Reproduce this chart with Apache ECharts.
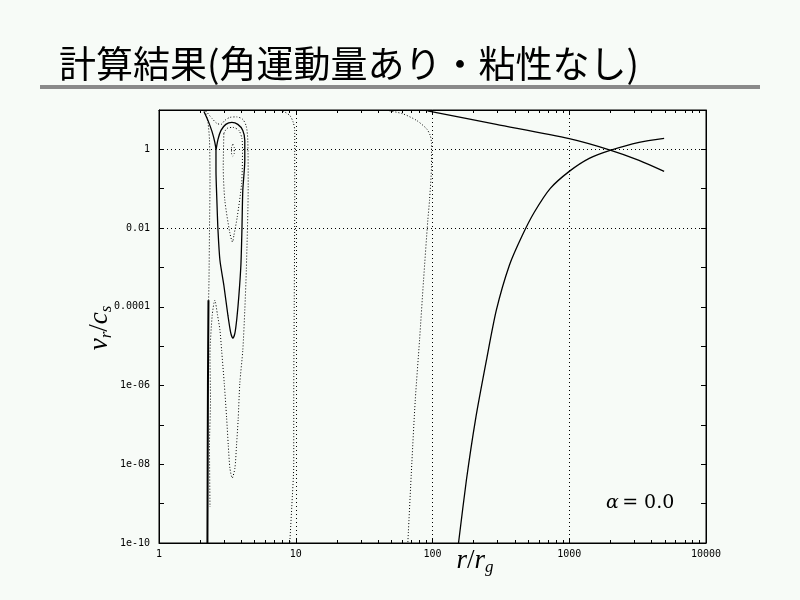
<!DOCTYPE html>
<html>
<head>
<meta charset="utf-8">
<title>計算結果(角運動量あり・粘性なし)</title>
<script src="https://cdn.jsdelivr.net/npm/echarts@6/dist/echarts.min.js"></script>
<style>
html,body{margin:0;padding:0;background:#f7fbf7;}
#main{width:800px;height:600px;}
</style>
</head>
<body>
<div id="main"></div>
<script>
// x = r/r_g , y = v_r/c_s  (both log)
var xTickText = ['1', '10', '100', '1000', '10000'];
var yTickValues = [1e-10, 1e-9, 1e-8, 1e-7, 1e-6, 1e-5, 1e-4, 1e-3, 1e-2, 1e-1, 1, 10];
var yLabelValues = [1e-10, 1e-8, 1e-6, 1e-4, 1e-2, 1];
var yLabelText = ['1e-10', '1e-08', '1e-06', '0.0001', '0.01', '1'];
var xGrid = [10, 100, 1000];
var yGrid = [1e-8, 1e-6, 1e-4, 1e-2, 1];

// solid curves (critical solutions)
var innerLoop = [
	[2.13, 9.2], [2.28, 5.45], [2.44, 2.86], [2.56, 1.51], [2.61, 0.943],
	[2.61, 0.293], [2.65, 0.0508], [2.70, 0.0088], [2.79, 0.00152], [2.98, 3.53e-4],
	[3.19, 6.12e-5], [3.35, 2.14e-5], [3.47, 1.6e-5], [3.59, 2.14e-5], [3.71, 5.14e-5],
	[3.84, 1.97e-4], [3.97, 0.00114], [4.04, 0.0088], [4.10, 0.091], [4.24, 0.526],
	[4.24, 1.69], [4.10, 3.03], [3.77, 4.31], [3.41, 4.84], [3.08, 4.31],
	[2.84, 3.03], [2.70, 1.79], [2.61, 0.943]
];
var horizonBranch = [[2.30, 1.47e-4], [2.28, 1e-6], [2.26, 1e-10]];
var outerFall = [[91.9, 9.5], [293, 4.31], [1000, 1.87], [1990, 0.96], [3240, 0.526], [4940, 0.276]];
var outerRise = [
	[155, 1e-10], [177, 3.98e-9], [206, 1.33e-7], [248, 4.4e-6], [293, 8.2e-5],
	[365, 0.00114], [454, 0.00656], [555, 0.0252], [727, 0.102], [1000, 0.276],
	[1400, 0.591], [1990, 0.943], [3240, 1.51], [4940, 1.90]
];

// dotted curves (other contours)
var innerCore = [[3.47, 1.34], [3.55, 1.12], [3.55, 0.792], [3.47, 0.664], [3.39, 0.792], [3.39, 1.12], [3.47, 1.34]];
var innerRing = [
	[2.98, 2.55], [3.14, 3.41], [3.47, 3.62], [3.84, 3.03], [4.04, 1.90], [4.08, 0.943],
	[4.02, 0.137], [3.73, 0.0188], [3.53, 0.00656], [3.45, 0.00444], [3.30, 0.00738],
	[3.03, 0.0508], [2.95, 0.349], [2.98, 2.55]
];
var outerRing = [
	[2.20, 9.5], [2.44, 6.12], [2.65, 4.57], [2.84, 4.31], [3.03, 5.45], [3.30, 6.49],
	[3.71, 6.68], [4.10, 5.77], [4.35, 3.83], [4.46, 1.69], [4.49, 0.122], [4.35, 0.00085],
	[4.24, 8.2e-5], [4.10, 7.9e-6], [3.90, 1.15e-6], [3.79, 1.33e-7], [3.69, 3.07e-8],
	[3.59, 8.0e-9], [3.43, 4.47e-9], [3.30, 8.0e-9], [3.21, 3.07e-8], [3.12, 1.58e-7],
	[3.00, 1.15e-6], [2.87, 7.9e-6], [2.79, 2.55e-5], [2.68, 6.12e-5], [2.56, 1.47e-4],
	[2.45, 6.12e-5], [2.36, 5.9e-6], [2.38, 4.26e-7], [2.34, 3.07e-8], [2.36, 8.2e-10]
];
var leftEdge = [[2.17, 9.5], [2.28, 4.84], [2.34, 1.69], [2.36, 0.163], [2.34, 0.0088], [2.32, 4.73e-4], [2.30, 1.1e-4]];
var nearTen = [[8.04, 9.5], [9.04, 7.3], [9.59, 4.84], [9.83, 3.03], [9.83, 0.0508], [9.75, 1.47e-4], [9.67, 4.26e-7], [9.67, 1.07e-8], [9.35, 8.2e-10], [9.04, 1e-10]];
var nearHundred = [[48.5, 9.5], [60.4, 8.06], [76.4, 5.45], [90.4, 3.35], [96.2, 2.27], [98.3, 1.42], [98.3, 0.393], [95.1, 0.0508], [92.4, 0.0158], [86.0, 4.73e-4], [80.4, 1.42e-5], [74.8, 4.26e-7], [70.6, 1.07e-8], [66.0, 1e-10]];

var chart = echarts.init(document.getElementById('main'));

function yLabel(v){
	var e = Math.log10(v);
	for (var i = 0; i < yLabelValues.length; i++) {
		if (Math.abs(Math.log10(yLabelValues[i]) - e) < 1e-6) return yLabelText[i];
	}
	return '';
}
function xLabel(v){
	var i = Math.round(Math.log10(v));
	return xTickText[i] || '';
}

var tickFont = {fontFamily: 'DejaVu Sans Mono', fontSize: 10, color: '#000'};

function xAxisCfg(pos, labels){
	return {
		type: 'log', logBase: 10, min: 1, max: 10000, position: pos,
		axisLine: {show: true, lineStyle: {color: '#000', width: 1}},
		axisTick: {show: true, inside: true, length: 5, lineStyle: {color: '#000'}},
		minorTick: {show: true, splitNumber: 9, length: 3, lineStyle: {color: '#000'}},
		axisLabel: Object.assign({show: labels, margin: 6, formatter: xLabel}, tickFont),
		splitLine: {show: false}
	};
}
function yAxisCfg(pos, labels){
	return {
		type: 'log', logBase: 10, min: 1e-10, max: 10, position: pos,
		axisLine: {show: true, lineStyle: {color: '#000', width: 1}},
		axisTick: {show: true, inside: true, length: 5, customValues: yTickValues, lineStyle: {color: '#000'}},
		minorTick: {show: false},
		axisLabel: Object.assign({show: labels, margin: 9, customValues: yLabelValues, formatter: yLabel}, tickFont),
		splitLine: {show: false}
	};
}

var gridMarks = [];
xGrid.forEach(function(v){ gridMarks.push({xAxis: v}); });
yGrid.forEach(function(v){ gridMarks.push({yAxis: v}); });

function solid(name, data, w){
	return {
		name: name, type: 'line', data: data, showSymbol: false, smooth: 0.25,
		lineStyle: {color: '#000', width: w || 1.3}, z: 3, silent: true
	};
}
function dotted(name, data){
	return {
		name: name, type: 'line', data: data, showSymbol: false, smooth: 0.25,
		lineStyle: {color: '#000', width: 1, type: [1, 2]}, z: 3, silent: true
	};
}

var series = [
	solid('innerLoop', innerLoop),
	solid('horizonBranch', horizonBranch, 2),
	solid('outerFall', outerFall),
	solid('outerRise', outerRise),
	dotted('innerCore', innerCore),
	dotted('innerRing', innerRing),
	dotted('outerRing', outerRing),
	dotted('leftEdge', leftEdge),
	dotted('nearTen', nearTen),
	dotted('nearHundred', nearHundred)
];
series[2].markLine = {
	silent: true, symbol: 'none', label: {show: false}, animation: false,
	lineStyle: {color: '#000', width: 1, type: [1, 3]},
	emphasis: {disabled: true},
	data: gridMarks
};

var subRich = {
	m: {fontFamily: 'Liberation Serif', fontStyle: 'italic', fontSize: 27, lineHeight: 30, color: '#000'},
	n: {fontFamily: 'Liberation Serif', fontSize: 27, lineHeight: 30, color: '#000'},
	s: {fontFamily: 'Liberation Serif', fontStyle: 'italic', fontSize: 17, lineHeight: 18, verticalAlign: 'bottom', color: '#000'}
};

chart.setOption({
	backgroundColor: '#f7fbf7',
	animation: false,
	grid: {left: 159, top: 110, width: 547, height: 433, show: true, borderColor: '#000', borderWidth: 1, backgroundColor: 'transparent', outerBoundsMode: 'none'},
	xAxis: [xAxisCfg('bottom', true), xAxisCfg('top', false)],
	yAxis: [yAxisCfg('left', true), yAxisCfg('right', false)],
	series: series,
	graphic: [
		{type: 'rect', shape: {x: 40, y: 85, width: 720, height: 4}, style: {fill: '#8a8a8a'}},
		{type: 'text', x: 59, y: 64, style: {text: '計算結果(角運動量あり・粘性なし)', fontFamily: 'Noto Sans CJK JP', fontSize: 37, fill: '#000', verticalAlign: 'middle'}},
		{type: 'text', x: 606, y: 503, style: {
			text: '{a|α} {b|= 0.0}', verticalAlign: 'middle',
			rich: {
				a: {fontFamily: 'DejaVu Serif', fontStyle: 'italic', fontSize: 19, color: '#000'},
				b: {fontFamily: 'DejaVu Serif', fontSize: 19, color: '#000'}
			}
		}},
		{type: 'text', x: 100, y: 328, rotation: Math.PI / 2, style: {
			text: '{m|v}{s|r}{n|/}{m|c}{s|s}', align: 'center', verticalAlign: 'middle', rich: subRich
		}},
		{type: 'text', x: 475, y: 561, style: {
			text: '{m|r}{n|/}{m|r}{s|g}', align: 'center', verticalAlign: 'middle', rich: subRich
		}}
	]
});
</script>
</body>
</html>
